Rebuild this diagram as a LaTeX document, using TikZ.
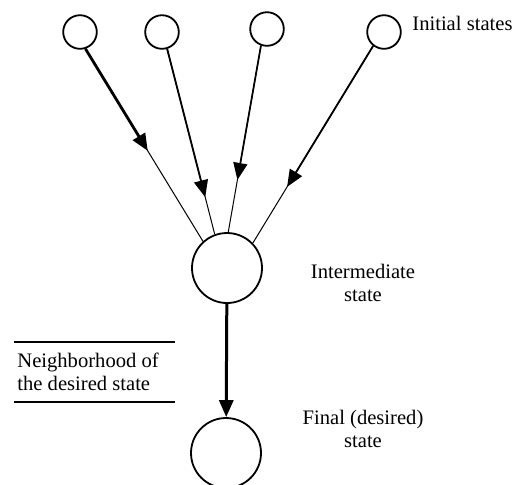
\documentclass[tikz,border=0pt]{standalone}
\usepackage{fontspec}
\setmainfont{Liberation Serif}
\usetikzlibrary{arrows.meta,calc}

\begin{document}
\begin{tikzpicture}[x=0.5pt,y=-0.5pt,>={Triangle[length=8.5pt,width=7pt]},
                    every node/.style={font=\fontsize{10.3}{11.5}\selectfont}]
  \tikzstyle{small state}=[circle,draw=black,line width=0.9pt,inner sep=0pt,minimum size=16.8pt]
  \tikzstyle{big state}=[circle,draw=black,line width=0.9pt,inner sep=0pt,minimum size=35pt]
  \tikzstyle{thin edge}=[line width=0.5pt]
  \tikzstyle{label}=[inner sep=0pt,align=center,anchor=north]

  \clip (0,0) rectangle (518,484);

  % states
  \node[small state] (init1) at (80,32)  {};
  \node[small state] (init2) at (162,32) {};
  \node[small state] (init3) at (267,29) {};
  \node[small state] (init4) at (384,32) {};
  \node[big state]   (inter) at (227,268) {};
  \node[big state]   (final) at (226,453) {};

  % texts
  \node[inner sep=0pt,anchor=base west] (initlbl) at (412,30) {Initial states};
  \node[label] (interlbl) at (363,264) {Intermediate\\state};
  \node[label] (finallbl) at (363,410) {Final (desired)\\state};
  \node[inner sep=0pt,anchor=north west,align=left] (nbh) at (17,353)
       {Neighborhood of\\the desired state};
  \draw[line width=0.8pt] (14,342) -- (175,342);
  \draw[line width=0.8pt] (14,402) -- (175,402);

  % transitions
  \draw[thin edge] (init1.-72)   -- (inter.132);
  \draw[thin edge] (init2.-73)   -- (inter.110);
  \draw[thin edge] (init3.-110)  -- (inter.88);
  \draw[thin edge] (init4.-128)  -- (inter.44);
  \draw[->,line width=1.4pt] (init1.-72)  -- ($(init1.-72)!0.53!(inter.132)$);
  \draw[->,line width=0.9pt] (init2.-73)  -- ($(init2.-73)!0.80!(inter.110)$);
  \draw[->,line width=0.85pt] (init3.-110) -- ($(init3.-110)!0.72!(inter.88)$);
  \draw[->,line width=0.9pt] (init4.-128) -- ($(init4.-128)!0.715!(inter.44)$);
  \draw[->,line width=1.5pt] (inter) -- (final);
\end{tikzpicture}
\end{document}
